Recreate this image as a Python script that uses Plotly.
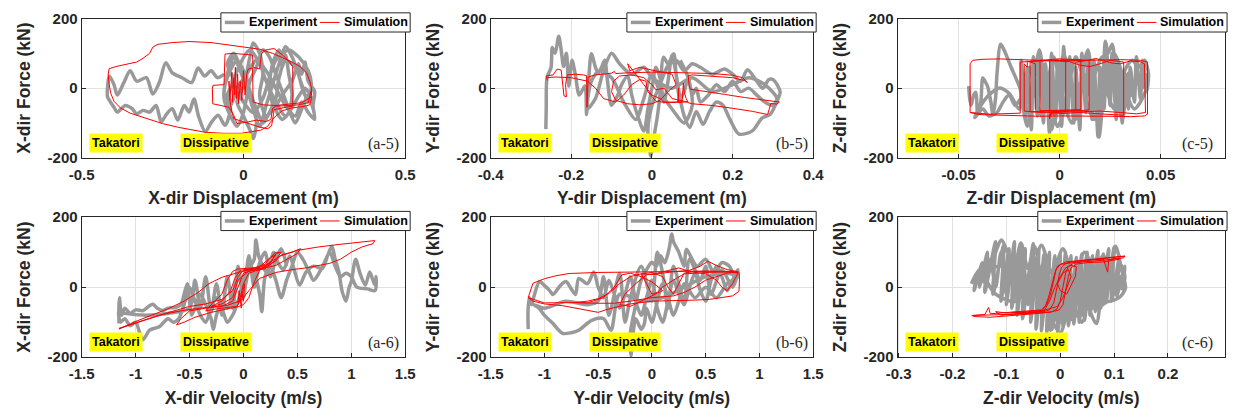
import plotly.graph_objects as go

# ---------------------------------------------------------------- data
# Hysteresis traces: (response, force in kN) pairs for each panel
a5_exp = [(-0.06, 40), (-0.08, 30), (-0.10, 50), (-0.12, 35), (-0.14, 58), (-0.16, 16), (-0.19, 30),
          (-0.22, 44), (-0.24, 73), (-0.26, 16), (-0.28, -17), (-0.30, 30), (-0.33, 20), (-0.35, 50),
          (-0.37, 15), (-0.39, -20), (-0.40, 10), (-0.415, 35), (-0.42, 0), (-0.42, -25), (-0.40, -55),
          (-0.39, -69), (-0.365, -50), (-0.344, -59), (-0.33, -74), (-0.31, -64), (-0.29, -69),
          (-0.27, -50), (-0.254, -97), (-0.24, -78), (-0.22, -59), (-0.203, -92), (-0.183, -50),
          (-0.168, -69), (-0.153, -31), (-0.138, -83), (-0.118, -125), (-0.098, -97), (-0.078, -78),
          (-0.057, -107), (-0.04, -60), (-0.05, -20), (-0.03, 20), (-0.05, 70), (-0.03, 100),
          (-0.01, 60), (0.0, 10), (-0.02, -40), (0.0, -80), (0.02, -120), (0.03, -145), (0.04, -100),
          (0.03, -40), (0.01, 30), (0.02, 90), (0.03, 130), (0.05, 100), (0.06, 40), (0.05, -20),
          (0.07, -80), (0.09, -60), (0.08, 0), (0.09, 70), (0.11, 110), (0.12, 60), (0.13, 95),
          (0.14, 40), (0.15, -20), (0.14, -70), (0.12, -90), (0.10, -60), (0.12, -20), (0.15, 20),
          (0.17, 70), (0.18, 40), (0.19, 75), (0.20, 20), (0.22, -10), (0.215, -50), (0.22, -90),
          (0.20, -70), (0.18, -40), (0.16, -80), (0.13, -50), (0.10, 0), (0.07, 50), (0.04, 80),
          (0.01, 40), (-0.02, 0), (-0.04, -50), (-0.06, -20), (-0.05, 30), (-0.02, 80), (0.0, 50),
          (0.02, -10), (0.04, -60), (0.06, -100), (0.08, -70), (0.10, -30), (0.11, 30), (0.13, 80),
          (0.16, 60), (0.18, 10), (0.20, -40), (0.21, 10), (0.20, 50), (0.17, 90), (0.14, 110),
          (0.10, 80), (0.08, 30), (0.06, -30), (0.03, -70), (0.0, -40), (-0.03, 10), (-0.01, 70),
          (0.02, 110), (0.05, 70), (0.07, 20), (0.10, -40), (0.13, -80), (0.16, -40), (0.19, 0),
          (0.21, -30), (0.19, -20), (0.17, 40), (0.15, 90), (0.13, 120), (0.11, 70), (0.09, 10),
          (0.07, -50), (0.05, -110), (0.03, -60), (0.01, 0), (-0.01, 50), (-0.03, 90), (-0.05, 40),
          (-0.06, -30), (-0.04, -80), (-0.02, -110), (0.0, -70), (0.02, 20), (0.04, 60), (0.06, 110),
          (0.08, 90), (0.10, 40), (0.12, -10), (0.14, -60), (0.16, -100), (0.18, -60), (0.20, -20),
          (0.215, -60)]

a5_sim = [(0.21, -20), (0.21, 0), (0.205, 20), (0.195, 44), (0.175, 62), (0.154, 73), (0.12, 88),
          (0.09, 100), (0.05, 112), (0.0, 118), (-0.05, 125), (-0.10, 131), (-0.168, 134),
          (-0.22, 131), (-0.264, 126), (-0.28, 118), (-0.29, 100), (-0.31, 86), (-0.33, 75),
          (-0.36, 70), (-0.39, 63), (-0.415, 56), (-0.418, 40), (-0.415, 10), (-0.41, -15),
          (-0.40, -38), (-0.38, -57), (-0.35, -72), (-0.30, -88), (-0.25, -102), (-0.20, -113),
          (-0.15, -122), (-0.118, -127), (-0.06, -130), (-0.007, -130), (0.053, -121), (0.075, -110),
          (0.084, -97), (0.10, -80), (0.12, -65), (0.15, -57), (0.19, -52), (0.205, -48), (0.21, -30),
          (0.208, -10), (0.20, -42), (0.17, -48), (0.14, -50), (0.10, -52), (0.09, -58), (0.085, -90),
          (0.07, -96), (0.04, -92), (0.01, -98), (-0.02, -102), (-0.03, -78), (-0.045, -55),
          (-0.07, -50), (-0.095, -45), (-0.096, 0), (-0.094, 8), (-0.06, 10), (-0.058, 60),
          (-0.057, 98), (-0.03, 100), (0.0, 97), (0.028, 95), (0.03, 60), (0.05, 55), (0.056, 100),
          (0.07, 110), (0.094, 114), (0.12, 96), (0.14, 78), (0.152, 62), (0.153, -10), (0.152, -52),
          (0.125, -56), (0.095, -62), (0.087, -108), (0.075, -117), (0.05, -112), (0.02, -103),
          (0.0, -97), (-0.03, -88), (-0.04, -50), (-0.045, 20), (-0.042, -35), (-0.036, 45),
          (-0.034, -40), (-0.03, 30), (-0.028, -20), (-0.025, 60), (-0.022, -30), (-0.018, 40),
          (-0.015, -45), (-0.01, 20), (-0.005, -35), (0.0, 50), (0.005, -20), (0.01, 40), (0.015, 55),
          (0.028, 58), (0.03, -40), (0.06, -48), (0.10, -50), (0.14, -46), (0.18, -42), (0.21, -25)]

b5_exp = [(-0.263, -118), (-0.262, -60), (-0.26, 30), (-0.25, 60), (-0.247, 117), (-0.24, 100),
          (-0.231, 149), (-0.225, 110), (-0.219, 62), (-0.212, 100), (-0.206, 6), (-0.198, 80),
          (-0.19, 40), (-0.18, -20), (-0.166, 6), (-0.162, -76), (-0.157, 20), (-0.15, 99),
          (-0.14, 60), (-0.133, 43), (-0.125, 60), (-0.117, 80), (-0.11, 20), (-0.10, -49),
          (-0.085, -21), (-0.075, 10), (-0.06, 34), (-0.05, -20), (-0.036, -77), (-0.02, -123),
          (-0.01, -60), (0.0, 0), (0.01, 60), (0.02, 30), (0.03, -40), (0.04, 20), (0.05, 95),
          (0.06, 40), (0.07, -30), (0.08, -80), (0.094, -113), (0.11, -67), (0.127, -104),
          (0.143, -67), (0.16, -40), (0.176, -49), (0.192, -86), (0.216, -132), (0.249, -123),
          (0.273, -86), (0.293, -76), (0.306, -49), (0.318, -12), (0.315, 0), (0.30, 25), (0.29, 25),
          (0.275, 0), (0.26, 20), (0.237, 53), (0.22, 20), (0.20, 40), (0.18, 55), (0.15, 40),
          (0.12, 60), (0.10, 70), (0.08, 50), (0.06, 80), (0.04, 65), (0.02, 10), (0.0, -50),
          (-0.01, -120), (-0.005, -178), (-0.003, -196), (0.005, -140), (0.013, -86), (0.02, -20),
          (0.029, 89), (0.04, 70), (0.054, 99), (0.06, 40), (0.07, -30), (0.08, -10), (0.09, 30),
          (0.10, -20), (0.11, 0), (0.12, -40), (0.14, -20), (0.16, 10), (0.18, -10), (0.20, 20),
          (0.22, -10), (0.24, 0), (0.26, -20), (0.28, -40), (0.30, -50), (0.31, -30), (0.28, 10),
          (0.24, 30), (0.2, 10), (0.15, -10), (0.1, 30), (0.05, 0), (0.0, 30), (-0.02, 60),
          (-0.05, 40), (-0.08, 70), (-0.10, 100), (-0.12, 50), (-0.14, -30), (-0.16, -60),
          (-0.15, 20), (-0.13, 50), (-0.10, 30), (-0.07, -40), (-0.04, -90), (-0.02, -30),
          (0.0, 40), (0.02, -10), (0.05, -60), (0.08, -100), (0.10, -50), (0.09, 30), (0.07, 80)]

b5_sim = [(-0.259, 22), (-0.262, 35), (-0.245, 38), (-0.235, 55), (-0.225, 52), (-0.222, 20),
          (-0.218, -22), (-0.212, -25), (-0.214, 10), (-0.21, 38), (-0.19, 40), (-0.17, 38),
          (-0.162, 36), (-0.161, -55), (-0.158, 32), (-0.14, 38), (-0.12, 40), (-0.10, 43),
          (-0.093, 48), (-0.09, 42), (-0.06, 44), (-0.03, 46), (0.0, 46), (0.05, 45), (0.10, 43),
          (0.15, 42), (0.20, 37), (0.225, 30), (0.237, 16), (0.23, 22), (0.20, 30), (0.15, 35),
          (0.10, 38), (0.09, 36), (0.092, 10), (0.095, -3), (0.13, -10), (0.18, -18), (0.23, -27),
          (0.27, -33), (0.30, -38), (0.316, -40), (0.31, -46), (0.295, -44), (0.287, -76),
          (0.25, -67), (0.20, -58), (0.15, -50), (0.10, -45), (0.09, -42), (0.085, -30), (0.08, -10),
          (0.078, 15), (0.075, -40), (0.066, -42), (0.066, 0), (0.064, -40), (0.03, -40), (0.02, -30),
          (0.0, -20), (-0.02, 10), (-0.04, 40), (-0.06, 70), (-0.055, 50), (-0.03, 60), (0.0, 52),
          (0.03, 45), (0.05, 40), (0.06, 10), (0.04, -10), (0.02, -35), (0.0, -45), (-0.03, -48),
          (-0.06, -45), (-0.09, -35), (-0.10, -10), (-0.095, 20), (-0.08, 35), (-0.05, 38),
          (-0.02, 30), (0.0, 10), (0.01, -5), (0.03, 0), (0.05, -30), (0.08, -38), (0.09, -40),
          (0.07, -40), (0.04, -42), (0.01, -38), (-0.01, -10), (-0.015, 20), (-0.03, 25),
          (-0.05, 10), (-0.07, -20), (-0.09, -40), (-0.12, -30), (-0.14, 0), (-0.16, 20),
          (-0.20, 30), (-0.24, 32), (-0.26, 30)]

c5_exp = [(-0.045, 6), (-0.0445, -30), (-0.0438, -49), (-0.0425, -20), (-0.0414, -12), (-0.0406, -76),
          (-0.039, -40), (-0.038, 29), (-0.0365, 15), (-0.0357, 6), (-0.034, -40), (-0.033, -76),
          (-0.0317, -30), (-0.031, 40), (-0.0292, 126), (-0.0275, 110), (-0.026, 89), (-0.024, 60),
          (-0.0227, 43), (-0.021, 20), (-0.0195, -3), (-0.018, -60), (-0.016, -110), (-0.014, -40),
          (-0.012, 50), (-0.010, 110), (-0.008, 40), (-0.006, -60), (-0.004, -120), (-0.002, -50),
          (0.0, 30), (0.002, 100), (0.004, 60), (0.006, -20), (0.008, -90), (0.010, -40), (0.012, 70),
          (0.014, 110), (0.016, 30), (0.018, -60), (0.0195, -141), (0.021, -60), (0.0227, 135),
          (0.024, 100), (0.026, 126), (0.028, 30), (0.031, -95), (0.033, 0), (0.034, 43),
          (0.0357, -21), (0.038, 20), (0.0406, -3), (0.0425, 30), (0.0438, 43), (0.043, 0),
          (0.040, -40), (0.037, -60), (0.034, -30), (0.030, 60), (0.027, 100), (0.024, 40),
          (0.020, -30), (0.017, -90), (0.014, -50), (0.011, 40), (0.008, 90), (0.005, 20),
          (0.002, -70), (-0.001, -110), (-0.004, -40), (-0.007, 50), (-0.010, 80), (-0.013, 10),
          (-0.016, -70), (-0.019, -30), (-0.022, -50), (-0.025, -20), (-0.028, -40), (-0.031, -70),
          (-0.035, -80), (-0.038, -60), (-0.042, -85), (-0.040, -60), (-0.035, -20), (-0.030, 0),
          (-0.025, -15), (-0.020, -60), (-0.019, 80), (-0.017, -90), (-0.016, 60), (-0.014, -120),
          (-0.013, 90), (-0.011, -80), (-0.010, 110), (-0.008, -100), (-0.007, 70), (-0.005, -130),
          (-0.004, 100), (-0.002, -90), (-0.001, 80), (0.001, -110), (0.002, 120), (0.004, -80),
          (0.005, 90), (0.007, -100), (0.008, 60), (0.010, -120), (0.011, 100), (0.013, -70),
          (0.014, 110), (0.016, -90), (0.017, 80), (0.019, -140), (0.020, 60), (0.022, -60),
          (0.023, 130), (0.025, -50), (0.026, 100), (0.028, -90), (0.029, 70), (0.031, -100),
          (0.032, 50), (0.034, -60), (0.035, 60), (0.037, -40), (0.038, 90), (0.040, -30),
          (0.041, 80), (0.043, -10), (0.044, 40), (0.042, 80), (0.039, 60), (0.036, 80),
          (0.033, 60), (0.030, 10), (0.027, -60), (0.024, -20), (0.021, 90), (0.018, 50),
          (0.015, -20), (0.012, 40), (0.009, -20), (0.006, -100), (0.003, -60), (0.0, 20),
          (-0.003, 90), (-0.006, 10), (-0.009, -80), (-0.012, -20), (-0.015, 60), (-0.018, 20)]

c5_sim = [(-0.0443, -70), (-0.0443, 0), (-0.0443, 70), (-0.043, 80), (-0.038, 83), (-0.03, 84),
          (-0.02, 83), (-0.01, 80), (0.0, 78), (0.01, 79), (0.02, 80), (0.03, 82), (0.04, 80),
          (0.0435, 75), (0.0435, 0), (0.0435, -75), (0.042, -80), (0.035, -82), (0.025, -81),
          (0.01, -80), (0.0, -80), (-0.01, -81), (-0.02, -80), (-0.03, -79), (-0.04, -76),
          (-0.0443, -70), (-0.035, -75), (-0.0195, -72), (-0.0195, 0), (-0.0195, 75), (-0.01, 78),
          (0.003, 80), (0.003, 0), (0.003, -65), (-0.005, -66), (-0.0146, -68), (-0.0146, 78),
          (-0.005, 80), (0.0105, 82), (0.0105, -62), (0.0, -64), (-0.0097, -65), (-0.0097, 80),
          (0.0, 84), (0.0146, 80), (0.0146, -63), (0.005, -66), (-0.0049, -72), (-0.0049, 80),
          (0.005, 76), (0.01, 66), (0.015, 62), (0.02, 70), (0.025, 80), (0.0317, 75),
          (0.0317, -78), (0.02, -74), (0.01, -70), (-0.0049, -75), (-0.005, -88), (-0.004, -68),
          (0.008, -64), (0.008, 75), (0.012, 78), (0.018, 85), (0.022, 78), (0.026, 72), (0.03, 70),
          (0.035, 78), (0.04, 76), (0.042, 70), (0.0425, -70), (0.038, -74), (0.03, -70),
          (0.02, -66), (0.0105, -68), (-0.01, -70), (-0.0175, -66), (-0.0175, 70), (-0.016, 60),
          (-0.016, 78), (-0.012, 70), (-0.012, -62)]

a6_exp = [(-1.154, -104), (-1.155, -60), (-1.15, -30), (-1.13, -80), (-1.10, -60), (-1.05, -75),
          (-1.0, -65), (-0.93, -67), (-0.88, -55), (-0.84, -49), (-0.80, -60), (-0.75, -67),
          (-0.70, -60), (-0.63, -58), (-0.58, -50), (-0.55, -20), (-0.52, 10), (-0.50, -40),
          (-0.48, -80), (-0.45, -60), (-0.40, -20), (-0.35, -50), (-0.30, -90), (-0.28, -120),
          (-0.25, -80), (-0.20, -40), (-0.15, -60), (-0.10, -20), (-0.05, 30), (0.0, -10), (0.05, 50),
          (0.10, 80), (0.115, 135), (0.14, 90), (0.18, 60), (0.22, 40), (0.28, 99), (0.32, 70),
          (0.37, 50), (0.43, 89), (0.47, 50), (0.52, 6), (0.58, 43), (0.65, 60), (0.73, 53),
          (0.78, 90), (0.82, 117), (0.85, 80), (0.885, 43), (0.915, -12), (0.95, -40), (0.98, 0),
          (1.0, 16), (1.04, 80), (1.08, 40), (1.13, 6), (1.17, 43), (1.20, 20), (1.22, 6),
          (1.23, 30), (1.22, -10), (1.15, -5), (1.05, 0), (1.0, 30), (0.95, 40), (0.90, 30),
          (0.85, 60), (0.80, 100), (0.75, 70), (0.70, 40), (0.65, 20), (0.60, 50), (0.55, 80),
          (0.50, 100), (0.45, 60), (0.40, 20), (0.35, -30), (0.30, 20), (0.25, 60), (0.20, 30),
          (0.17, -70), (0.15, -20), (0.10, 40), (0.05, 70), (0.0, 20), (-0.05, -40), (-0.10, -80),
          (-0.15, -100), (-0.20, -60), (-0.25, -30), (-0.30, -60), (-0.35, -100), (-0.40, -80),
          (-0.45, -40), (-0.50, 0), (-0.55, -50), (-0.60, -90), (-0.65, -100), (-0.70, -90),
          (-0.78, -113), (-0.87, -123), (-0.93, -150), (-0.96, -132), (-1.0, -100), (-1.05, -110),
          (-1.10, -90), (-1.14, -100), (-1.155, -70), (-1.10, -75), (-0.9, -80), (-0.7, -75),
          (-0.5, -60), (-0.45, 20), (-0.40, -60), (-0.35, 30), (-0.30, -70), (-0.25, 10),
          (-0.20, -80), (-0.15, 30), (-0.10, -60), (-0.05, 60), (0.0, -30), (0.05, 90), (0.10, 0),
          (0.15, 70), (0.20, 100), (0.25, 30), (0.30, 80), (0.35, 110), (0.40, 60)]

a6_sim = [(-1.154, -120), (-1.10, -112), (-1.0, -98), (-0.85, -80), (-0.70, -62), (-0.55, -40),
          (-0.42, -15), (-0.32, 10), (-0.20, 28), (-0.05, 42), (0.10, 52), (0.20, 62), (0.34, 89),
          (0.50, 105), (0.70, 115), (0.885, 122), (1.05, 128), (1.218, 133), (1.20, 124),
          (1.10, 115), (1.0, 100), (0.90, 80), (0.80, 68), (0.70, 62), (0.58, 55), (0.45, 50),
          (0.30, 42), (0.15, 25), (0.05, -10), (-0.02, -38), (-0.15, -52), (-0.35, -58),
          (-0.55, -66), (-0.75, -78), (-0.93, -95), (-1.05, -108), (-1.154, -118), (-1.0, -102),
          (-0.80, -82), (-0.62, -65), (-0.50, -55), (-0.35, -48), (-0.20, -35), (-0.10, -10),
          (-0.05, 30), (0.0, 48), (0.10, 52), (0.20, 56), (0.30, 75), (0.35, 92), (0.45, 100),
          (0.53, 110), (0.50, 96), (0.40, 78), (0.30, 62), (0.20, 55), (0.10, 50), (0.0, 40),
          (-0.05, 0), (-0.10, -40), (-0.20, -55), (-0.35, -60), (-0.50, -68), (-0.58, -90),
          (-0.62, -108), (-0.55, -100), (-0.45, -86), (-0.30, -72), (-0.15, -62), (-0.05, -56),
          (0.0, -50), (0.05, -30), (0.10, 15), (0.15, 48), (0.25, 70), (0.30, 96), (0.35, 100),
          (0.30, 78), (0.20, 52), (0.05, 46), (-0.05, 20), (-0.10, -30), (-0.20, -48), (-0.30, -55),
          (-0.20, -40), (-0.12, -10), (-0.08, 25), (-0.03, 48), (0.05, 52), (0.15, 58), (0.25, 85),
          (0.30, 92), (0.25, 70), (0.15, 50), (0.05, 40), (0.0, 10), (-0.03, -30), (-0.05, -45),
          (-0.04, -10), (-0.02, -60), (-0.01, -20), (0.0, -40), (0.01, 10), (-0.02, -30),
          (-0.06, -55), (-0.15, -58), (-0.25, -62), (-0.35, -68), (-0.30, -50), (-0.20, -20),
          (-0.15, 20), (-0.10, 45), (-0.05, 52), (0.10, 55), (0.20, 65), (0.28, 95), (0.30, 100),
          (0.35, 98)]

b6_exp = [(-1.15, -120), (-1.152, -70), (-1.14, -30), (-1.12, -50), (-1.10, -30), (-1.045, 16),
          (-1.0, 5), (-0.95, -10), (-0.92, -21), (-0.85, 5), (-0.80, 16), (-0.75, -5), (-0.71, -21),
          (-0.68, 25), (-0.60, 10), (-0.54, 43), (-0.50, 0), (-0.45, -30), (-0.40, 20), (-0.35, -20),
          (-0.30, -60), (-0.25, -20), (-0.20, 30), (-0.15, -40), (-0.10, -80), (-0.05, -30),
          (0.0, 20), (0.05, -60), (0.10, -100), (0.15, -40), (0.20, 20), (0.25, -20), (0.30, -50),
          (0.35, 0), (0.40, 40), (0.45, -10), (0.50, -40), (0.55, 20), (0.60, 60), (0.65, 30),
          (0.70, -10), (0.75, 20), (0.80, 50), (0.78, 20), (0.72, 60), (0.65, 70), (0.58, 40),
          (0.50, 80), (0.42, 60), (0.32, 108), (0.30, 60), (0.25, 100), (0.20, 130), (0.185, 152),
          (0.16, 110), (0.12, 70), (0.08, 90), (0.04, 60), (0.0, 71), (-0.05, 50), (-0.10, 20),
          (-0.15, -50), (-0.20, -130), (-0.195, -196), (-0.18, -150), (-0.15, -90), (-0.10, -120),
          (-0.07, -104), (-0.05, -60), (0.0, -100), (0.05, -40), (0.10, 10), (0.15, -30),
          (0.20, -80), (0.25, -40), (0.30, 10), (0.40, -30), (0.50, 0), (0.60, -30), (0.70, 10),
          (0.80, 30), (0.70, 40), (0.5, 30), (0.3, 0), (0.1, -30), (-0.1, -40), (-0.3, -20),
          (-0.38, -123), (-0.45, -90), (-0.56, -95), (-0.68, -123), (-0.75, -130), (-0.83, -132),
          (-0.92, -104), (-1.0, -80), (-1.05, -60), (-1.10, -50), (-1.0, -60), (-0.8, -40),
          (-0.6, -50), (-0.5, -40), (-0.45, 30), (-0.40, -80), (-0.30, 40), (-0.25, -100),
          (-0.20, -30), (-0.10, 60), (0.0, -40), (0.05, 100), (0.10, 40), (0.15, -60), (0.20, 60),
          (0.30, -40), (0.35, 80), (0.45, 20), (0.50, 60), (0.55, -20), (0.65, 50), (0.75, 0),
          (0.80, 40)]

b6_sim = [(-1.15, -30), (-1.12, 0), (-1.106, 11), (-1.0, 24), (-0.90, 32), (-0.77, 39), (-0.50, 42),
          (-0.20, 43), (0.0, 44), (0.30, 45), (0.50, 46), (0.70, 45), (0.81, 43), (0.815, 30),
          (0.81, -12), (0.75, -25), (0.60, -32), (0.535, -35), (0.40, -37), (0.20, -38), (0.0, -40),
          (-0.20, -48), (-0.40, -62), (-0.50, -72), (-0.60, -66), (-0.83, -53), (-1.0, -48),
          (-1.106, -40), (-1.15, -30), (-1.0, -45), (-0.72, -44), (-0.60, -40), (-0.50, -33),
          (-0.40, -18), (-0.30, 10), (-0.20, 30), (-0.10, 38), (0.0, 36), (0.20, 44), (0.35, 48),
          (0.45, 60), (0.52, 74), (0.60, 62), (0.70, 50), (0.80, 44), (0.70, 40), (0.60, 30),
          (0.50, 20), (0.40, 0), (0.30, -15), (0.20, -25), (0.0, -30), (-0.20, -40), (-0.35, -46),
          (-0.50, -46), (-0.72, -44), (-0.60, -45), (-0.45, -30), (-0.35, 0), (-0.28, 35),
          (-0.20, 40), (-0.10, 30), (0.0, 15), (0.10, -10), (0.0, -25), (-0.10, -40), (-0.20, -55),
          (-0.30, -50), (-0.25, -20), (-0.15, 10), (-0.05, 35), (0.05, 40), (0.15, 48), (0.25, 55),
          (0.30, 50), (0.40, 42), (0.50, 38), (0.60, 20), (0.65, 0), (0.70, -10), (0.75, 10),
          (0.80, 40), (0.70, 45), (0.50, 42), (0.30, 38), (0.20, 20), (0.10, 0), (0.05, -15),
          (0.0, -20), (-0.05, 10), (-0.10, 38), (0.0, 42), (0.10, 30), (0.15, 0), (0.20, -20),
          (0.25, 10), (0.30, 40), (0.40, 45), (0.60, 44), (0.80, 42)]

c6_exp = [(-0.165, 10), (-0.155, 40), (-0.16, -10), (-0.145, 70), (-0.15, 0), (-0.135, 100),
          (-0.14, -15), (-0.12, 130), (-0.125, -20), (-0.105, 120), (-0.11, -40), (-0.095, 110),
          (-0.10, -50), (-0.085, 130), (-0.09, -60), (-0.075, 120), (-0.08, -80), (-0.065, 110),
          (-0.07, -90), (-0.05, 125), (-0.055, -100), (-0.04, 110), (-0.045, -120), (-0.03, 95),
          (-0.035, -125), (-0.02, 100), (-0.025, -130), (-0.01, 90), (-0.015, -120), (0.0, 95),
          (-0.005, -130), (0.01, 100), (0.005, -115), (0.02, 90), (0.015, -110), (0.03, 85),
          (0.025, -105), (0.04, 95), (0.035, -100), (0.05, 100), (0.045, -95), (0.06, 90),
          (0.055, -80), (0.07, 105), (0.065, -70), (0.08, 95), (0.075, -60), (0.09, 110),
          (0.085, -45), (0.10, 115), (0.095, -40), (0.11, 90), (0.105, -25), (0.12, 60),
          (0.115, -5), (0.12, 30), (0.11, 70), (0.10, -20), (0.09, 60), (0.08, -50), (0.07, 80),
          (0.06, -60), (0.05, 70), (0.04, -80), (0.03, 60), (0.02, -90), (0.01, 70), (0.0, -100),
          (-0.01, 60), (-0.02, -90), (-0.03, 80), (-0.04, -70), (-0.05, 90), (-0.06, -50),
          (-0.07, 100), (-0.08, -40), (-0.09, 90), (-0.10, -20), (-0.11, 100), (-0.12, 0),
          (-0.13, 80), (-0.14, 10), (-0.15, 50), (-0.16, 20), (-0.133, 53), (-0.109, 135),
          (-0.10, 108), (-0.085, 62), (-0.073, 126), (-0.06, 53), (-0.048, 117), (-0.035, 20),
          (-0.024, -58), (-0.018, -123), (-0.01, -90), (0.0, -50), (0.012, -67), (0.024, -95),
          (0.036, 53), (0.045, 0), (0.055, -67), (0.067, -104), (0.079, 6), (0.097, 71),
          (0.103, 117), (0.115, 43), (0.121, -3), (0.109, -30), (0.085, -40), (0.065, 30),
          (0.045, 100), (0.025, 20), (0.005, 110), (-0.015, 40), (-0.035, 120), (-0.055, 30),
          (-0.075, 40), (-0.095, 60), (-0.115, 60), (-0.14, 40), (-0.12, -20), (-0.08, -40),
          (-0.05, 60), (-0.03, -40), (0.0, -130), (0.02, -40), (0.04, -100), (0.06, 20),
          (0.08, 90), (0.10, 20), (0.12, 40)]

c6_sim = [(-0.164, -81), (-0.14, -80), (-0.12, -80), (-0.10, -78), (-0.07, -75), (-0.05, -73),
          (-0.03, -70), (-0.02, -65), (-0.012, -45), (-0.006, 0), (-0.002, 35), (0.003, 58),
          (0.01, 68), (0.02, 72), (0.04, 76), (0.06, 79), (0.08, 82), (0.10, 86), (0.12, 89),
          (0.118, 84), (0.10, 80), (0.08, 76), (0.06, 74), (0.04, 72), (0.025, 68), (0.015, 60),
          (0.01, 40), (0.005, 0), (0.0, -40), (-0.006, -62), (-0.015, -70), (-0.04, -75),
          (-0.07, -78), (-0.10, -82), (-0.13, -86), (-0.16, -84), (-0.164, -81), (-0.14, -78),
          (-0.133, -58), (-0.13, -76), (-0.10, -72), (-0.06, -68), (-0.035, -65), (-0.025, -50),
          (-0.018, -20), (-0.012, 20), (-0.008, 50), (0.0, 65), (0.02, 70), (0.04, 74), (0.06, 78),
          (0.08, 80), (0.088, 43), (0.09, 78), (0.10, 82), (0.11, 80), (0.095, 75), (0.08, 72),
          (0.05, 70), (0.03, 66), (0.02, 55), (0.015, 30), (0.01, -10), (0.005, -50), (-0.002, -65),
          (-0.02, -72), (-0.05, -74), (-0.08, -76), (-0.11, -80), (-0.12, -70), (-0.10, -74),
          (-0.06, -72), (-0.03, -68), (-0.02, -40), (-0.01, 0), (0.0, 30), (0.01, 55), (0.02, 62),
          (0.03, 58), (0.028, 30), (0.02, 5), (0.012, -20), (0.0, -10), (-0.005, 10), (0.005, 40),
          (0.015, 50), (0.02, 30), (0.012, 0), (0.005, -30), (-0.005, -55), (-0.03, -66),
          (-0.06, -70), (-0.09, -72), (-0.06, -74), (-0.035, -70), (-0.028, -55), (-0.022, -30),
          (-0.015, 10), (-0.01, 40), (-0.005, 60), (0.01, 72), (0.05, 78), (0.09, 84), (0.12, 88)]

# Axis ticks and labels
force_ticks = [-200, 0, 200]
force_labels = ["-200", "0", "200"]
dx_ticks, dx_labels = [-0.5, 0, 0.5], ["-0.5", "0", "0.5"]
dy_ticks, dy_labels = [-0.4, -0.2, 0, 0.2, 0.4], ["-0.4", "-0.2", "0", "0.2", "0.4"]
dz_ticks, dz_labels = [-0.05, 0, 0.05], ["-0.05", "0", "0.05"]
v_ticks = [-1.5, -1, -0.5, 0, 0.5, 1, 1.5]
v_labels = ["-1.5", "-1", "-0.5", "0", "0.5", "1", "1.5"]
vz_ticks = [-0.3, -0.2, -0.1, 0, 0.1, 0.2]
vz_labels = ["-0.3", "-0.2", "-0.1", "0", "0.1", "0.2"]

# ---------------------------------------------------------------- layout
W, H = 1241, 416
COLS = [(70, 400), (487, 816), (902, 1236)]
ROWS = [(10, 155), (217, 363)]
LEG_RIGHT = [405, 819, 1238]
LEG_TOP = [4, 211]
INK = "#262626"
EXP_COLOR, SIM_COLOR = "#999999", "#ff0000"
FONT = "Liberation Sans, Arial, sans-serif"


def px_x(p):
    return p / W


def px_y(p):
    return 1 - p / H


panels = [
    dict(exp=a5_exp, sim=a5_sim, xr=[-0.5, 0.5], tv=dx_ticks, tt=dx_labels,
         xt="X-dir Displacement (m)", yt="X-dir Force (kN)", tag="(a-5)", c=0, r=0, tagx=378),
    dict(exp=b5_exp, sim=b5_sim, xr=[-0.4, 0.4], tv=dy_ticks, tt=dy_labels,
         xt="Y-dir Displacement (m)", yt="Y-dir Force (kN)", tag="(b-5)", c=1, r=0, tagx=794),
    dict(exp=c5_exp, sim=c5_sim, xr=[-0.0802, 0.0819], tv=dz_ticks, tt=dz_labels,
         xt="Z-dir Displacement (m)", yt="Z-dir Force (kN)", tag="(c-5)", c=2, r=0, tagx=1208),
    dict(exp=a6_exp, sim=a6_sim, xr=[-1.5, 1.5], tv=v_ticks, tt=v_labels,
         xt="X-dir Velocity (m/s)", yt="X-dir Force (kN)", tag="(a-6)", c=0, r=1, tagx=378),
    dict(exp=b6_exp, sim=b6_sim, xr=[-1.5, 1.5], tv=v_ticks, tt=v_labels,
         xt="Y-dir Velocity (m/s)", yt="Y-dir Force (kN)", tag="(b-6)", c=1, r=1, tagx=794),
    dict(exp=c6_exp, sim=c6_sim, xr=[-0.302, 0.306], tv=vz_ticks, tt=vz_labels,
         xt="Z-dir Velocity (m/s)", yt="Z-dir Force (kN)", tag="(c-6)", c=2, r=1, tagx=1208),
]

fig = go.Figure()
annotations, shapes = [], []
layout = dict(
    width=W, height=H, margin=dict(l=0, r=0, t=0, b=0),
    paper_bgcolor="white", plot_bgcolor="white",
    font=dict(family=FONT, color=INK), showlegend=False,
)
legend_font = dict(family=FONT, size=12.5, color="black", weight="bold")

for i, p in enumerate(panels, start=1):
    sfx = "" if i == 1 else str(i)
    ex, ey = zip(*p["exp"])
    sx, sy = zip(*p["sim"])
    fig.add_trace(go.Scatter(
        x=ex, y=ey, mode="lines", name="Experiment",
        line=dict(color=EXP_COLOR, width=3.5, shape="spline", smoothing=0.8),
        xaxis=f"x{sfx}", yaxis=f"y{sfx}"))
    fig.add_trace(go.Scatter(
        x=sx, y=sy, mode="lines", name="Simulation",
        line=dict(color=SIM_COLOR, width=1),
        xaxis=f"x{sfx}", yaxis=f"y{sfx}"))

    x0, x1 = COLS[p["c"]]
    y0, y1 = ROWS[p["r"]]
    axis_common = dict(
        showline=True, linecolor=INK, linewidth=1, mirror=True,
        showgrid=True, gridcolor="#e1e1e1", gridwidth=1, zeroline=False,
        ticks="inside", ticklen=4, tickcolor=INK,
        tickfont=dict(family=FONT, size=15, color=INK, weight="bold"),
    )
    title_font = dict(family=FONT, size=17.5, color=INK, weight="bold")
    layout[f"xaxis{sfx}"] = dict(
        axis_common, domain=[px_x(x0), px_x(x1)], anchor=f"y{sfx}",
        range=p["xr"], tickvals=p["tv"], ticktext=p["tt"], ticklabelstandoff=3,
        title=dict(text=p["xt"], font=title_font, standoff=10))
    layout[f"yaxis{sfx}"] = dict(
        axis_common, domain=[px_y(y1), px_y(y0)], anchor=f"x{sfx}",
        range=[-200, 200], tickvals=force_ticks, ticktext=force_labels,
        title=dict(text=p["yt"], font=title_font, standoff=12))

    # legend box drawn in the upper-right corner of each panel
    R = LEG_RIGHT[p["c"]]
    L = R - 193
    T = LEG_TOP[p["r"]]
    B = T + 20
    mid = (T + B) / 2
    shapes.append(dict(type="rect", xref="paper", yref="paper",
                       x0=px_x(L), x1=px_x(R), y0=px_y(B), y1=px_y(T),
                       fillcolor="white", line=dict(color=INK, width=1), layer="above"))
    shapes.append(dict(type="line", xref="paper", yref="paper",
                       x0=px_x(L + 4), x1=px_x(L + 24), y0=px_y(mid), y1=px_y(mid),
                       line=dict(color=EXP_COLOR, width=3.5), layer="above"))
    shapes.append(dict(type="line", xref="paper", yref="paper",
                       x0=px_x(L + 101), x1=px_x(L + 121), y0=px_y(mid), y1=px_y(mid),
                       line=dict(color=SIM_COLOR, width=1), layer="above"))
    for label, lx in (("Experiment", L + 27), ("Simulation", L + 123)):
        annotations.append(dict(
            x=px_x(lx), y=px_y(mid), xref="paper", yref="paper", text=label, showarrow=False,
            xanchor="left", yanchor="middle", font=legend_font))

    ymid = 139.5 if p["r"] == 0 else 347.5
    for label, cx in (("Takatori", x0 + 35.5), ("Dissipative", x0 + 137)):
        annotations.append(dict(
            x=px_x(cx), y=px_y(ymid), xref="paper", yref="paper", text=label, showarrow=False,
            xanchor="center", yanchor="middle", bgcolor="#ffff00", borderpad=2,
            font=dict(family=FONT, size=12.5, color="black", weight="bold")))
    annotations.append(dict(
        x=px_x(p["tagx"]), y=px_y(ymid + 1), xref="paper", yref="paper", text=p["tag"],
        showarrow=False, xanchor="center", yanchor="middle",
        font=dict(family="Liberation Serif, Times New Roman, serif", size=16, color=INK)))

layout["annotations"] = annotations
layout["shapes"] = shapes
fig.update_layout(**layout)
fig.write_html("out.html", post_script="document.body.style.margin='0';")
